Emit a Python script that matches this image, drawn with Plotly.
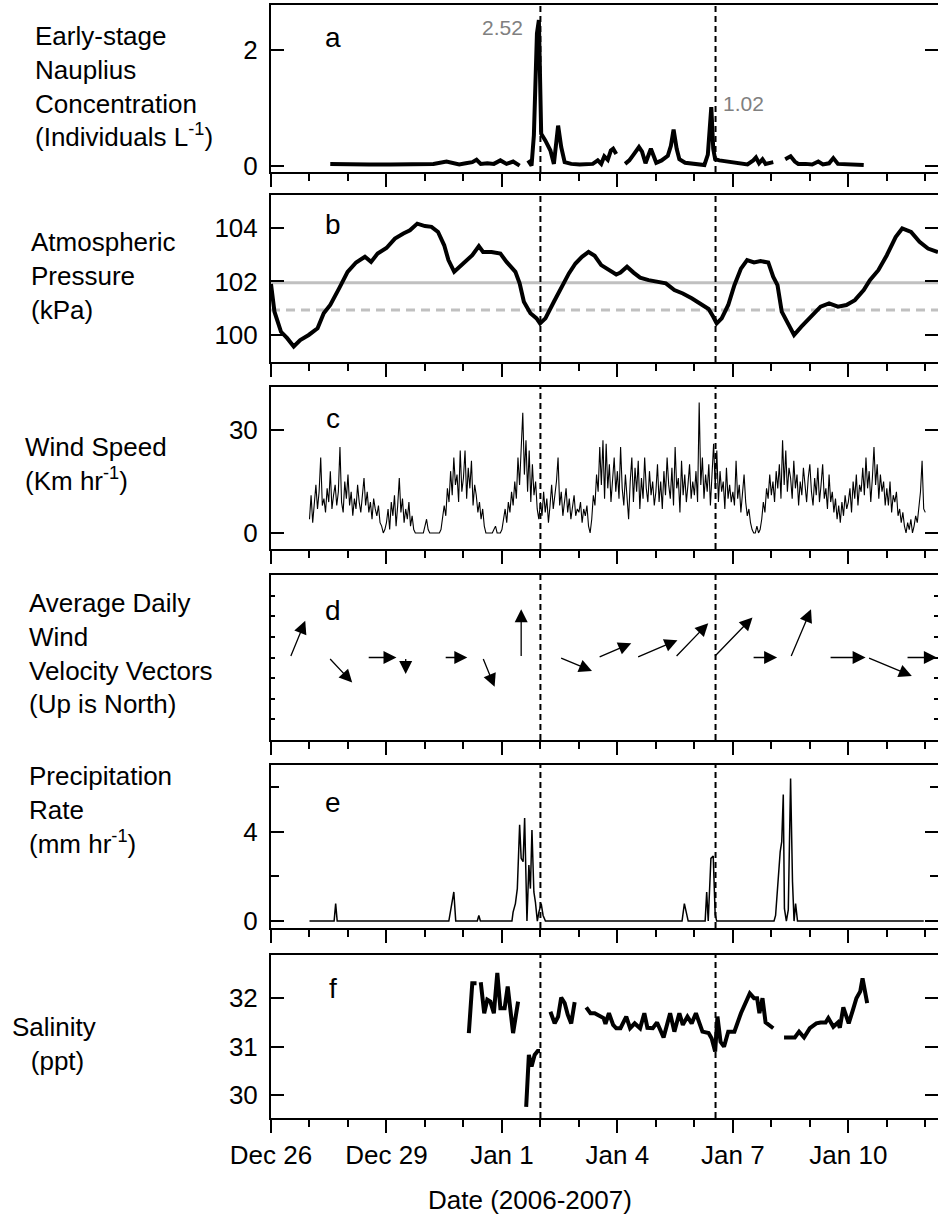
import plotly.graph_objects as go
import pandas as pd

BASE = pd.Timestamp("2006-12-26 00:00")
W, H = 938, 1217
FONT = "Liberation Sans, Arial, sans-serif"

# ---------------- data (x values are days after 2006-12-26 00:00) ----------------
tick_days = [0, 3, 6, 9, 12, 15]
tick_text = ["Dec 26", "Dec 29", "Jan 1", "Jan 4", "Jan 7", "Jan 10"]
event_days = [7.0, 11.55]

naup_days = [1.54, 1.99, 2.55, 3.11, 3.66, 4.22, 4.56, 4.89, 5.06, 5.23, 5.34, 5.45, 5.62, 5.79, 5.96, 6.12, 6.29, 6.46,
             None,
             6.68, 6.77, 6.83, 6.91, 6.96, 7.02, 7.13, 7.26, 7.35, 7.46, 7.54, 7.63, 7.80, 8.02, 8.36, 8.49, 8.58, 8.66,
             8.75, 8.83, 8.89, 8.97,
             None,
             9.20, 9.31, 9.42, 9.56, 9.64, 9.73, 9.87, 9.94, 10.01, 10.15, 10.31, 10.39, 10.46, 10.54, 10.61, 10.76,
             10.93, 11.09, 11.26, 11.35, 11.41, 11.44, 11.49, 11.54, 11.65, 11.93, 12.21, 12.38, 12.53, 12.60, 12.68,
             12.77, 12.85, 12.99, 13.05,
             None,
             13.36, 13.50, 13.61, 13.70, 13.89, 14.06, 14.22, 14.34, 14.50, 14.61, 14.73, 14.95, 15.17, 15.40]
naup_vals = [0.04, 0.03, 0.03, 0.03, 0.03, 0.04, 0.08, 0.03, 0.05, 0.07, 0.11, 0.04, 0.05, 0.04, 0.10, 0.04, 0.08, 0.01,
             None,
             0.10, 0.01, 0.53, 2.29, 2.52, 0.56, 0.44, 0.27, 0.04, 0.70, 0.33, 0.07, 0.04, 0.03, 0.04, 0.10, 0.04, 0.17,
             0.11, 0.27, 0.30, 0.21,
             None,
             0.04, 0.10, 0.20, 0.33, 0.25, 0.05, 0.30, 0.20, 0.06, 0.10, 0.18, 0.35, 0.63, 0.30, 0.12, 0.06,
             0.05, 0.03, 0.02, 0.20, 0.80, 1.02, 0.30, 0.12, 0.10, 0.07, 0.04, 0.03, 0.10, 0.15, 0.05,
             0.12, 0.04, 0.05, 0.07,
             None,
             0.12, 0.17, 0.08, 0.04, 0.04, 0.03, 0.08, 0.03, 0.05, 0.14, 0.04, 0.03, 0.03, 0.02]

pres_days = [0.0, 0.09, 0.26, 0.42, 0.59, 0.76, 0.98, 1.21, 1.37, 1.54, 1.77, 1.99, 2.21, 2.44, 2.6, 2.77, 3.0, 3.22,
             3.44, 3.61, 3.8, 4.0, 4.17, 4.34, 4.5, 4.61, 4.76, 4.95, 5.23, 5.4, 5.51, 5.73, 5.96, 6.12, 6.35, 6.46,
             6.57, 6.74, 6.9, 6.99, 7.13, 7.35, 7.58, 7.74, 7.91, 8.08, 8.25, 8.41, 8.58, 8.8, 8.97, 9.08, 9.25, 9.42,
             9.59, 9.81, 10.03, 10.26, 10.48, 10.7, 10.93, 11.15, 11.37, 11.49, 11.58, 11.71, 11.88, 12.04, 12.21,
             12.37, 12.55, 12.72, 12.92, 13.05, 13.16, 13.27, 13.44, 13.59, 13.78, 14.06, 14.28, 14.5, 14.73, 14.95,
             15.17, 15.4, 15.56, 15.78, 16.0, 16.23, 16.4, 16.63, 16.85, 17.07, 17.33]
pres_vals = [101.9, 100.87, 100.12, 99.88, 99.57, 99.81, 100.0, 100.25, 100.81, 101.12, 101.74, 102.36, 102.71,
             102.92, 102.73, 103.04, 103.25, 103.6, 103.79, 103.91, 104.16, 104.07, 104.04, 103.85, 103.35, 102.8,
             102.36, 102.61, 102.98, 103.32, 103.1, 103.1, 103.04, 102.73, 102.36, 101.93, 101.24, 100.81, 100.62,
             100.43, 100.62, 101.24, 101.86, 102.3, 102.67, 102.92, 103.1, 102.96, 102.61, 102.42, 102.26, 102.33,
             102.55, 102.33, 102.14, 102.05, 101.99, 101.93, 101.68, 101.55, 101.37, 101.18, 100.97, 100.68, 100.43,
             100.62, 101.12, 101.86, 102.48, 102.8, 102.71, 102.76, 102.71, 102.17, 101.86, 100.87, 100.37, 100.0,
             100.31, 100.75, 101.06, 101.18, 101.06, 101.12, 101.3, 101.68, 102.05, 102.42, 102.98, 103.66, 103.98,
             103.85, 103.48, 103.23, 103.1]
pres_ref_solid = 101.95
pres_ref_dashed = 100.93

wind_start_day = 1.0
wind_step_hours = 1
wind_speed = [
    4, 11, 3, 9, 14, 7, 12, 22, 8, 10, 6, 13, 9, 18, 7, 11, 14, 8, 12, 25, 9, 6, 15, 10,
    17, 8, 12, 5, 10, 7, 14, 9, 6, 11, 16, 8, 12, 6, 9, 4, 10, 7, 5, 8, 3, 2, 0, 1,
    3, 7, 1, 9, 5, 11, 2, 8, 16, 6, 10, 3, 7, 4, 9, 2, 5, 1, 0, 0, 0, 0, 0, 0,
    2, 4, 1, 0, 0, 0, 0, 0, 0, 0, 1, 4, 8, 5, 13, 9, 18, 11, 22, 14, 17, 9, 24, 12,
    16, 24, 10, 19, 13, 21, 8, 14, 11, 6, 9, 4, 7, 2, 0, 0, 0, 0, 0, 1, 2, 0, 0, 0,
    1, 4, 7, 3, 9, 6, 12, 8, 15, 10, 22, 14, 26, 35, 17, 27, 12, 24, 9, 20, 11, 15, 7, 4,
    9, 5, 12, 6, 10, 3, 8, 14, 7, 11, 15, 22, 8, 12, 5, 9, 13, 6, 10, 4, 8, 11, 5, 7,
    6, 9, 3, 7, 5, 8, 2, 0, 4, 11, 8, 17, 12, 25, 14, 27, 10, 26, 13, 20, 9, 16, 22, 12,
    18, 10, 25, 13, 8, 17, 11, 4, 15, 22, 9, 19, 12, 21, 7, 16, 10, 22, 13, 9, 18, 11, 15, 8,
    12, 20, 9, 15, 7, 18, 11, 22, 14, 10, 19, 8, 25, 13, 16, 6, 21, 11, 17, 9, 14, 20, 10, 15,
    11, 18, 9, 38, 14, 22, 10, 17, 12, 20, 8, 16, 26, 13, 24, 9, 18, 12, 15, 7, 19, 10, 14, 9,
    12, 8, 21, 10, 14, 6, 11, 17, 9, 5, 7, 3, 1, 0, 0, 2, 0, 1, 4, 9, 6, 13, 10, 17,
    11, 15, 9, 18, 13, 20, 10, 27, 14, 24, 12, 19, 16, 10, 21, 13, 17, 8, 15, 11, 19, 14, 9, 16,
    20, 12, 8, 16, 11, 19, 9, 14, 20, 10, 13, 7, 17, 9, 12, 6, 10, 4, 8, 3, 9, 5, 11, 7,
    9, 13, 6, 15, 10, 17, 8, 14, 12, 19, 11, 22, 13, 18, 9, 16, 25, 14, 20, 10, 17, 12, 15, 8,
    13, 8, 15, 6, 11, 9, 12, 5, 7, 3, 6, 2, 0, 3, 1, 4, 0, 2, 5, 3, 8, 12, 21, 7,
    6]

vec_days = [0.5, 1.5, 2.5, 3.5, 4.5, 5.5, 6.5, 7.5, 8.5, 9.5, 10.5, 11.5, 12.5, 13.5, 14.5, 15.5, 16.5]
vec_u = [3.9, 6.1, 7.6, 0.0, 6.0, 3.1, 0.0, 8.4, 8.6, 10.6, 8.6, 10.1, 6.5, 5.3, 9.5, 11.5, 8.0]   # km/h east
vec_v = [9.5, -6.5, 0.0, -4.3, 0.0, -7.6, 12.5, -3.5, 3.7, 4.5, 8.9, 10.4, 0.0, 12.5, 0.0, -4.8, 0.0]  # km/h north

precip_days = [1.0, 1.64, 1.68, 1.72, 4.62, 4.67, 4.72, 4.75, 4.80, 5.36, 5.40, 5.44,
               6.26, 6.29, 6.35, 6.40, 6.46, 6.50, 6.55, 6.59, 6.65, 6.70, 6.74, 6.78, 6.83, 6.87, 6.92, 6.96,
               7.02, 7.07, 7.13, 10.68, 10.74, 10.80, 10.84, 11.28, 11.32, 11.36, 11.43, 11.49, 11.54, 11.58,
               13.07, 13.11, 13.23, 13.27, 13.31, 13.34, 13.39, 13.44, 13.50, 13.55, 13.59, 13.63, 13.68, 16.96]
precip_vals = [0, 0, 0.78, 0, 0, 0.5, 1.1, 1.3, 0, 0, 0.25, 0,
               0, 0.4, 0.78, 1.45, 4.3, 2.8, 2.65, 4.6, 0, 2.5, 1.45, 4.07, 1.3, 0.85, 0, 0.4,
               0.78, 0.25, 0, 0, 0.78, 0.2, 0, 0, 1.3, 0, 2.8, 2.9, 0.3, 0,
               0, 0.25, 3.1, 3.55, 5.65, 0.55, 0, 0.5, 6.37, 1.75, 0, 0.78, 0, 0]

sal_days = [5.14, 5.23, 5.34, None,
            5.45, 5.54, 5.62, 5.70, 5.79, 5.88, 5.96, 6.07, 6.15, 6.21, 6.29, 6.42, None,
            6.63, 6.70, 6.77, 6.85, 6.93, 6.99, None,
            7.26, 7.37, 7.46, 7.54, 7.63, 7.71, 7.80, 7.89, None,
            8.19, 8.30, 8.41, 8.53, 8.64, 8.69, 8.78, 8.89, 8.97, 9.08, 9.23, 9.33, 9.45, 9.59, 9.70, 9.78, 9.92,
            10.03, 10.20, 10.37, 10.48, 10.61, 10.70, 10.82, 10.93, 11.04, 11.21, 11.37, 11.45, 11.54, 11.60,
            11.68, 11.77, 11.88, 12.04, 12.21, 12.32, 12.44, 12.55, 12.63, 12.69, 12.77, 12.85, 12.94, 13.05, None,
            13.33, 13.61, 13.72, 13.85, 14.00, 14.17, 14.28, 14.41, 14.48, 14.61, 14.73, 14.78, 14.87, 15.01,
            15.12, 15.21, 15.31, 15.37, 15.49]
sal_vals = [31.28, 32.31, 32.31, None,
            32.33, 31.69, 31.97, 31.93, 31.69, 32.52, 31.79, 31.79, 32.24, 31.79, 31.28, 31.93, None,
            29.76, 30.83, 30.59, 30.83, 30.91, 30.91, None,
            31.72, 31.48, 31.62, 32.01, 31.90, 31.66, 31.48, 31.92, None,
            31.81, 31.69, 31.69, 31.64, 31.59, 31.47, 31.69, 31.45, 31.38, 31.38, 31.62, 31.38, 31.48, 31.38, 31.69,
            31.39, 31.38, 31.50, 31.19, 31.69, 31.31, 31.69, 31.45, 31.62, 31.48, 31.69, 31.31, 31.28, 31.17, 30.90,
            31.62, 31.10, 31.00, 31.31, 31.31, 31.69, 31.90, 32.10, 32.00, 32.00, 31.69, 32.00, 31.50, 31.45, 31.38,
            None,
            31.19, 31.19, 31.31, 31.19, 31.38, 31.48, 31.50, 31.50, 31.59, 31.41, 31.50, 31.39, 31.81, 31.48,
            31.76, 32.00, 32.14, 32.41, 31.90]

# ---------------- helpers / styling ----------------
VEC_X_PER_KMH = 0.1     # days of x per km/h (drawing scale)
VEC_Y_PER_KMH = 0.187   # y units per km/h (drawing scale)


def to_dt(days):
    return [None if d is None else BASE + pd.Timedelta(days=d) for d in days]


x_left = 271 / W
x_end = BASE + pd.Timedelta(days=17.33)

# panel pixel extents (top, bottom)
panels_px = [(5, 172), (195, 362), (387, 549), (575, 740), (765, 928), (955, 1118)]
y_ranges = [[-0.10, 2.78], [98.99, 105.23], [-4.66, 42.5], [-4, 4], [-0.31, 6.97], [29.53, 32.89]]
y_ticks = [[0, 2], [100, 102, 104], [0, 30], [-3, -2, -1, 0, 1, 2, 3], [0, 4], [30, 31, 32]]

fig = go.Figure()


def ax(i):
    return "" if i == 1 else str(i)


layout = dict(width=W, height=H, margin=dict(l=0, r=0, t=0, b=0, pad=0, autoexpand=False),
              paper_bgcolor="white", plot_bgcolor="white", showlegend=False,
              font=dict(family=FONT, size=26, color="black"))

for i, ((top, bot), yr, yt) in enumerate(zip(panels_px, y_ranges, y_ticks), start=1):
    dom = [1 - bot / H, 1 - top / H]
    xa = dict(domain=[x_left, 1.0], anchor="y" + ax(i), range=[BASE, x_end], type="date", automargin=False,
              showline=True, linecolor="black", linewidth=2, mirror=True,
              ticks="outside", ticklen=13, tickwidth=2, tickcolor="black",
              tickmode="array", tickvals=to_dt(tick_days), ticktext=tick_text,
              showticklabels=(i == 6), showgrid=False, zeroline=False,
              tickfont=dict(size=26), ticklabelstandoff=0,
              minor=dict(ticks="outside", ticklen=7, tickwidth=2, tickcolor="black",
                         tickmode="linear", tick0=BASE, dtick=86400000, showgrid=False))
    if i > 1:
        xa["matches"] = "x"
    ya = dict(domain=dom, anchor="x" + ax(i), range=yr, showline=True, linecolor="black", linewidth=2,
              automargin=False, mirror="ticks", ticks="inside", ticklen=13, tickwidth=2, tickcolor="black",
              tickmode="array", tickvals=yt, showgrid=False, zeroline=False,
              tickfont=dict(size=26), ticklabelstandoff=6)
    if i == 4:
        ya.update(showticklabels=False, ticklen=4)
    if i == 5:
        ya["minor"] = dict(ticks="inside", ticklen=8, tickwidth=2, tickcolor="black",
                           tickmode="array", tickvals=[2, 6], showgrid=False)
    layout["xaxis" + ax(i)] = xa
    layout["yaxis" + ax(i)] = ya

fig.update_layout(**layout)

# panel a
fig.add_trace(go.Scatter(x=to_dt(naup_days), y=naup_vals, mode="lines",
                         line=dict(color="black", width=4), connectgaps=False, xaxis="x", yaxis="y"))
# panel b
fig.add_trace(go.Scatter(x=to_dt([0, 17.33]), y=[pres_ref_solid] * 2, mode="lines",
                         line=dict(color="#c0c0c0", width=3), xaxis="x2", yaxis="y2"))
fig.add_trace(go.Scatter(x=to_dt([0, 17.33]), y=[pres_ref_dashed] * 2, mode="lines",
                         line=dict(color="#c0c0c0", width=3, dash="9px,6px"), xaxis="x2", yaxis="y2"))
fig.add_trace(go.Scatter(x=to_dt(pres_days), y=pres_vals, mode="lines",
                         line=dict(color="black", width=4), xaxis="x2", yaxis="y2"))
# panel c
wind_days = [wind_start_day + k * wind_step_hours / 24 for k in range(len(wind_speed))]
fig.add_trace(go.Scatter(x=to_dt(wind_days), y=wind_speed, mode="lines",
                         line=dict(color="black", width=1.1), xaxis="x3", yaxis="y3"))
# panel e
fig.add_trace(go.Scatter(x=to_dt(precip_days), y=precip_vals, mode="lines",
                         line=dict(color="black", width=1.5), xaxis="x5", yaxis="y5"))
# panel f
fig.add_trace(go.Scatter(x=to_dt(sal_days), y=sal_vals, mode="lines",
                         line=dict(color="black", width=4), connectgaps=False, xaxis="x6", yaxis="y6"))

annotations = []
# panel d: wind vectors
for d, u, v in zip(vec_days, vec_u, vec_v):
    tail_x = BASE + pd.Timedelta(days=d)
    head_x = BASE + pd.Timedelta(days=d + u * VEC_X_PER_KMH)
    annotations.append(dict(x=head_x, y=v * VEC_Y_PER_KMH, ax=tail_x, ay=0,
                            xref="x4", yref="y4", axref="x4", ayref="y4",
                            text="", showarrow=True, arrowhead=2, arrowsize=2.0, arrowwidth=1.3,
                            arrowcolor="black", standoff=0, startstandoff=0))

# dashed event lines
shapes = []
for i in range(1, 7):
    for ed in event_days:
        t = BASE + pd.Timedelta(days=ed)
        shapes.append(dict(type="line", xref="x" + ax(i), yref="y" + ax(i) + " domain",
                           x0=t, x1=t, y0=0, y1=1, line=dict(color="black", width=2, dash="6px,4px")))

# peak labels
imax = max(range(len(naup_vals)), key=lambda k: -1 if naup_vals[k] is None else naup_vals[k])
annotations.append(dict(x=BASE + pd.Timedelta(days=naup_days[imax]), y=naup_vals[imax], xref="x", yref="y",
                        text=f"{naup_vals[imax]:.2f}", showarrow=False, xanchor="right", yanchor="middle",
                        xshift=-14, yshift=-7, font=dict(size=21, color="#808080")))
second = [k for k in range(len(naup_vals)) if naup_vals[k] is not None and naup_days[k] > 10]
i2 = max(second, key=lambda k: naup_vals[k])
annotations.append(dict(x=BASE + pd.Timedelta(days=naup_days[i2]), y=naup_vals[i2], xref="x", yref="y",
                        text=f"{naup_vals[i2]:.2f}", showarrow=False, xanchor="left", yanchor="middle",
                        xshift=10, yshift=4, font=dict(size=21, color="#808080")))

# panel letters
for i, (letter, cy) in enumerate(zip("abcdef", [37, 225, 418, 610, 802, 988]), start=1):
    annotations.append(dict(x=333 / W, y=1 - cy / H, xref="paper", yref="paper", text=letter,
                            showarrow=False, xanchor="center", yanchor="middle", font=dict(size=28)))

# left labels
left_labels = [
    ("Early-stage<br>Nauplius<br>Concentration<br>(Individuals L<sup>-1</sup>)", 33, 87, "left"),
    ("Atmospheric<br>Pressure<br>(kPa)", 29, 276, "left"),
    ("Wind Speed<br>(Km hr<sup>-1</sup>)", 23, 464, "left"),
    ("Average Daily<br>Wind<br>Velocity Vectors<br>(Up is North)", 27, 653, "left"),
    ("Precipitation<br>Rate<br>(mm hr<sup>-1</sup>)", 27, 810, "left"),
    ("Salinity<br> (ppt)", 54, 1044, "center"),
]
for txt, lx, cy, al in left_labels:
    annotations.append(dict(x=lx / W, y=1 - cy / H, xref="paper", yref="paper", text=txt, showarrow=False,
                            xanchor="left" if al == "left" else "center", yanchor="middle", align=al,
                            font=dict(size=26)))

# x-axis title
annotations.append(dict(x=530 / W, y=1 - 1200 / H, xref="paper", yref="paper", text="Date (2006-2007)",
                        showarrow=False, xanchor="center", yanchor="middle", font=dict(size=26)))

fig.update_layout(annotations=annotations, shapes=shapes)
fig.write_html("out.html")
